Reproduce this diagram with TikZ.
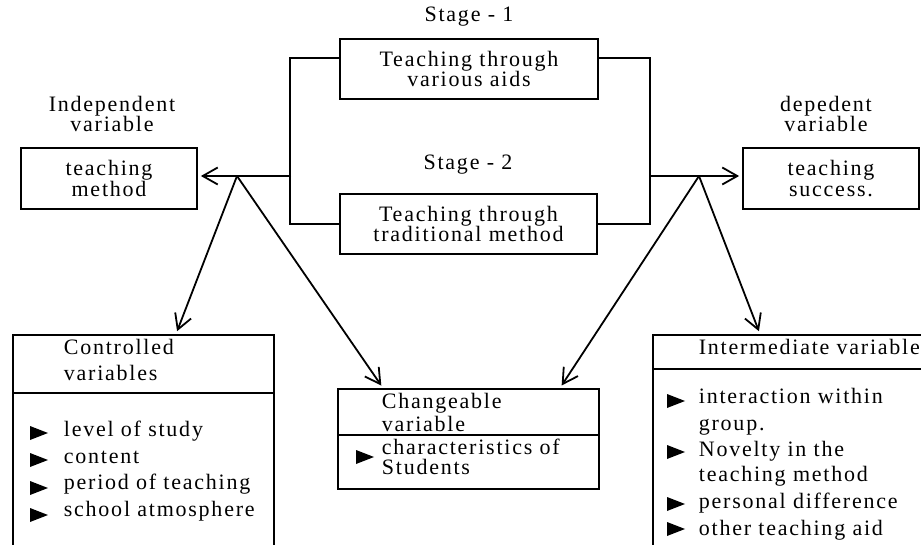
\documentclass[tikz,border=0pt]{standalone}
\usepackage{fontspec}
\setmainfont[LetterSpace=8]{Liberation Serif}
\usetikzlibrary{arrows.meta}
\newcommand\dgfont{\fontsize{22}{20.5}\selectfont}
\begin{document}
\begin{tikzpicture}[x=1pt,y=-1pt,line width=1.8pt,
  box/.style={draw, inner sep=0pt, align=center, font=\dgfont},
  lbl/.style={inner sep=0pt, align=center, font=\dgfont},
  frame/.style={draw, inner sep=0pt, anchor=north west},
  txt/.style={inner sep=0pt, anchor=base west, font=\dgfont},
  arr/.style={-{Straight Barb[length=15pt,width=17pt]}, shorten >=3pt}]
\clip (0,0) rectangle (921,545);
% top boxes
\node[box, minimum width=258pt, minimum height=60pt] (aids) at (469,69) {Teaching through\\various aids};
\node[box, minimum width=257pt, minimum height=60pt] (trad) at (468.5,224) {Teaching through\\traditional method};
\node[box, minimum width=176pt, minimum height=61pt] (method) at (109,178.5) {teaching\\method};
\node[box, minimum width=176pt, minimum height=61pt] (success) at (831,178.5) {teaching\\success.};
\node[lbl] (indep) at (112,114) {Independent\\variable};
\node[lbl] (dep) at (826,114) {depedent\\variable};
\node[lbl] (st1) at (469,17) {Stage - 1};
\node[lbl] (st2) at (468,165) {Stage - 2};
% bracket
\draw ([yshift=-20pt]aids.north west) -- ++(-49,0) coordinate (bl) |- (trad.west);
\draw ([yshift=-20pt]aids.north east) -- ++(51,0) coordinate (br) |- (trad.east);
\coordinate (lb) at (291,176);
\coordinate (rb) at (649,176);
\draw[arr] (lb) -- (method.east |- lb);
\draw[arr] (rb) -- (success.west |- rb);
% bottom frames
\node[frame, minimum width=261pt, minimum height=240pt] (ctrl) at (12,334) {};
\node[frame, minimum width=261pt, minimum height=100pt] (chg) at (337,388) {};
\node[frame, minimum width=290pt, minimum height=240pt] (inter) at (652,334) {};
\draw (ctrl.west |- 0,393) -- (ctrl.east |- 0,393);
\draw (chg.west |- 0,435) -- (chg.east |- 0,435);
\draw (inter.west |- 0,369) -- (inter.east |- 0,369);
% apex arrows
\coordinate (la) at (237,176);
\coordinate (ra) at (699,176);
\draw[arr] (la) -- ([xshift=164pt]ctrl.north west);
\draw[arr] (la) -- ([xshift=46pt]chg.north west);
\draw[arr] (ra) -- ([xshift=223pt]chg.north west);
\draw[arr] (ra) -- ([xshift=108pt]inter.north west);
% controlled
\node[txt] (c1) at (63,354) {Controlled};
\node[txt] (c2) at (63,380) {variables};
\node[txt] (c3) at (63,436) {level of study};
\node[txt] (c4) at (63,463) {content};
\node[txt] (c5) at (63,489) {period of teaching};
\node[txt] (c6) at (63,516) {school atmosphere};
\foreach \y in {433,460,488,515} \fill (30,\y-7) -- (48,\y) -- (30,\y+7) -- cycle;
% changeable
\node[txt] (g1) at (381,408) {Changeable};
\node[txt] (g2) at (381,431) {variable};
\node[txt] (g3) at (381,454) {characteristics of};
\node[txt] (g4) at (381,474) {Students};
\fill (356,450) -- (374,457) -- (356,464) -- cycle;
% intermediate
\node[txt] (i1) at (698,354) {Intermediate variable};
\node[txt] (i2) at (698,403) {interaction within};
\node[txt] (i3) at (698,430) {group.};
\node[txt] (i4) at (698,456) {Novelty in the};
\node[txt] (i5) at (698,481) {teaching method};
\node[txt] (i6) at (698,508) {personal difference};
\node[txt] (i7) at (698,535) {other teaching aid};
\foreach \y in {401,452,504,529} \fill (667,\y-7) -- (685,\y) -- (667,\y+7) -- cycle;
\end{tikzpicture}
\end{document}
